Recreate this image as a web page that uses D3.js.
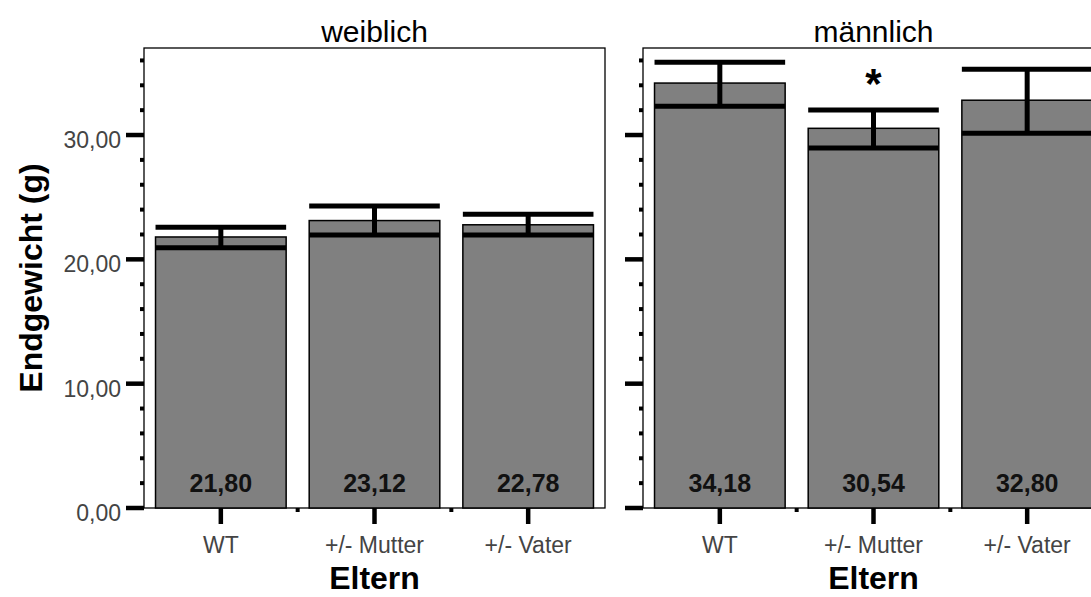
<!DOCTYPE html>
<html>
<head>
<meta charset="utf-8">
<script src="https://cdn.jsdelivr.net/npm/d3@7"></script>
<style>
  body { margin: 0; background: #fff; }
  svg { display: block; font-family: "Liberation Sans", Arial, sans-serif; }
</style>
</head>
<body>
<svg id="chart" width="1091" height="597"></svg>
<script>
var width = 1091;
var height = 597;

// data
var panels = ["weiblich", "männlich"];
var groups = ["WT", "+/- Mutter", "+/- Vater"];
var means = [[21.80, 23.12, 22.78], [34.18, 30.54, 32.80]];
var upper = [[22.58, 24.30, 23.63], [35.86, 32.02, 35.29]];
var lower = [[20.94, 21.96, 21.96], [32.32, 28.96, 30.14]];
var stars = [["", "", ""], ["", "*", ""]];
var yTicks = [0, 10, 20, 30];
var yMinor = d3.range(2, 37, 2).filter(function (v) { return v % 10 != 0; });

var top_ = 48, bottom = 508;
var panelLeft = [144, 643];
var panelWidth = 461;

var svg = d3.select("#chart");

var y = d3.scaleLinear().domain([0, 37]).range([bottom, top_]);
var x = d3.scaleBand().domain(groups).range([0, panelWidth])
    .paddingInner(0.15).paddingOuter(0.075);

var fmt = function (v) { return d3.format(".2f")(v).replace(".", ","); };

panels.forEach(function (p, pi) {
    var g = svg.append("g").attr("transform", "translate(" + panelLeft[pi] + ",0)");

    // frame
    g.append("rect")
        .attr("x", 0).attr("y", top_)
        .attr("width", panelWidth).attr("height", bottom - top_)
        .attr("fill", "none").attr("stroke", "#000").attr("stroke-width", 1.3);

    // title
    g.append("text")
        .attr("x", panelWidth / 2).attr("y", 42)
        .attr("text-anchor", "middle")
        .attr("font-size", "30px")
        .attr("fill", "#000")
        .text(p);

    // bars
    var rows = groups.map(function (d, i) {
        return { cat: d, mean: means[pi][i], hi: upper[pi][i], lo: lower[pi][i], star: stars[pi][i] };
    });

    g.selectAll(".bar")
        .data(rows)
        .enter()
        .append("rect")
        .attr("class", "bar")
        .attr("x", function (d) { return x(d.cat); })
        .attr("width", x.bandwidth())
        .attr("y", function (d) { return y(d.mean); })
        .attr("height", function (d) { return y(0) - y(d.mean); })
        .attr("fill", "#808080")
        .attr("stroke", "#000")
        .attr("stroke-width", 1.5);

    // error bars
    var err = g.selectAll(".err").data(rows).enter().append("g").attr("class", "err");
    err.append("line")
        .attr("x1", function (d) { return x(d.cat) + x.bandwidth() / 2; })
        .attr("x2", function (d) { return x(d.cat) + x.bandwidth() / 2; })
        .attr("y1", function (d) { return y(d.hi); })
        .attr("y2", function (d) { return y(d.lo); })
        .attr("stroke", "#000").attr("stroke-width", 5);
    ["hi", "lo"].forEach(function (k) {
        err.append("line")
            .attr("x1", function (d) { return x(d.cat); })
            .attr("x2", function (d) { return x(d.cat) + x.bandwidth(); })
            .attr("y1", function (d) { return y(d[k]); })
            .attr("y2", function (d) { return y(d[k]); })
            .attr("stroke", "#000").attr("stroke-width", 5);
    });

    // value labels
    g.selectAll(".val")
        .data(rows)
        .enter()
        .append("text")
        .attr("x", function (d) { return x(d.cat) + x.bandwidth() / 2; })
        .attr("y", 492)
        .attr("text-anchor", "middle")
        .attr("font-size", "25px")
        .attr("font-weight", "bold")
        .attr("fill", "#111")
        .text(function (d) { return fmt(d.mean); });

    // significance
    g.selectAll(".star")
        .data(rows.filter(function (d) { return d.star; }))
        .enter()
        .append("text")
        .attr("x", function (d) { return x(d.cat) + x.bandwidth() / 2; })
        .attr("y", y(32.0) - 12)
        .attr("text-anchor", "middle")
        .attr("font-size", "42px")
        .attr("font-weight", "bold")
        .attr("fill", "#000")
        .text(function (d) { return d.star; });

    // y axis ticks
    g.selectAll(".ymaj")
        .data(yTicks)
        .enter()
        .append("line")
        .attr("x1", -18).attr("x2", 0)
        .attr("y1", function (d) { return y(d); })
        .attr("y2", function (d) { return y(d); })
        .attr("stroke", "#000").attr("stroke-width", 4.5);
    g.selectAll(".ymin")
        .data(yMinor)
        .enter()
        .append("line")
        .attr("x1", -4).attr("x2", 0)
        .attr("y1", function (d) { return y(d); })
        .attr("y2", function (d) { return y(d); })
        .attr("stroke", "#000").attr("stroke-width", 4);

    if (pi == 0) {
        g.selectAll(".ylab")
            .data(yTicks)
            .enter()
            .append("text")
            .attr("x", -23)
            .attr("y", function (d) { return y(d) + 13; })
            .attr("text-anchor", "end")
            .attr("font-size", "23px")
            .attr("fill", "#444")
            .text(fmt);
    }

    // x axis ticks
    g.selectAll(".xmaj")
        .data(groups)
        .enter()
        .append("line")
        .attr("x1", function (d) { return x(d) + x.bandwidth() / 2; })
        .attr("x2", function (d) { return x(d) + x.bandwidth() / 2; })
        .attr("y1", bottom).attr("y2", bottom + 16)
        .attr("stroke", "#000").attr("stroke-width", 4.5);
    g.selectAll(".xmin")
        .data(groups.slice(1))
        .enter()
        .append("line")
        .attr("x1", function (d) { return x(d) - x.step() * x.paddingInner() / 2; })
        .attr("x2", function (d) { return x(d) - x.step() * x.paddingInner() / 2; })
        .attr("y1", bottom).attr("y2", bottom + 4)
        .attr("stroke", "#000").attr("stroke-width", 4);

    g.selectAll(".xlab")
        .data(groups)
        .enter()
        .append("text")
        .attr("x", function (d) { return x(d) + x.bandwidth() / 2; })
        .attr("y", 553)
        .attr("text-anchor", "middle")
        .attr("font-size", "23px")
        .attr("fill", "#444")
        .text(function (d) { return d; });

    g.append("text")
        .attr("x", panelWidth / 2).attr("y", 589)
        .attr("text-anchor", "middle")
        .attr("font-size", "32px")
        .attr("font-weight", "bold")
        .attr("fill", "#000")
        .text("Eltern");
});

svg.append("text")
    .attr("transform", "translate(42," + (top_ + bottom) / 2 + ") rotate(-90)")
    .attr("text-anchor", "middle")
    .attr("font-size", "32px")
    .attr("font-weight", "bold")
    .attr("fill", "#000")
    .text("Endgewicht (g)");
</script>
</body>
</html>
